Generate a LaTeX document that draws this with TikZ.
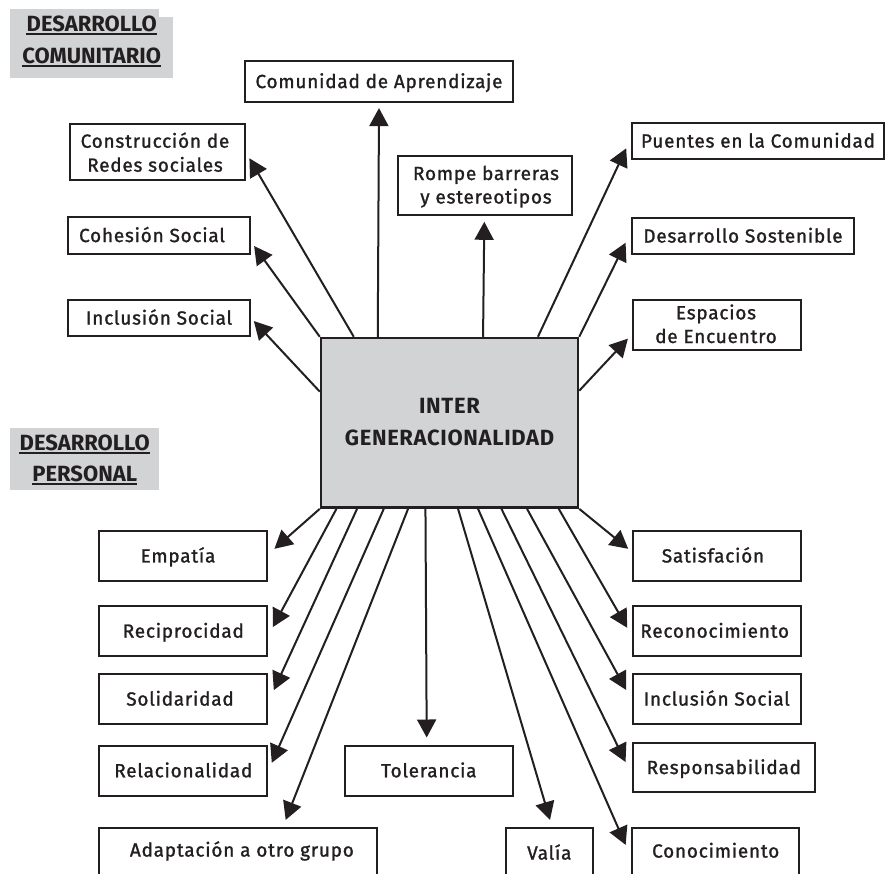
\documentclass[tikz,border=0pt]{standalone}
\usepackage{fontspec}
\setmainfont{Fira Sans}
\newfontfamily\boxfont[LetterSpace=4, FakeBold=1.3]{Fira Sans}
\newfontfamily\headfont{Fira Sans}
\newfontfamily\centfont[LetterSpace=3]{Fira Sans}
\usetikzlibrary{arrows.meta}
\definecolor{ink}{HTML}{231F20}
\definecolor{boxgray}{HTML}{D1D3D4}
\tikzset{
  bx/.style={draw=ink, line width=2.2pt, fill=white, inner sep=0pt, text=ink,
    font=\boxfont\fontsize{19}{24}\selectfont, text height=13.1pt, text depth=0pt},
  lbl/.style={inner sep=0pt, text=ink, anchor=base, font=\boxfont\fontsize{19}{24}\selectfont},
  ttl/.style={inner sep=0pt, text=ink, anchor=base, font=\headfont\bfseries\fontsize{22}{26}\selectfont},
  ctxt/.style={inner sep=0pt, text=ink, anchor=base, font=\centfont\bfseries\fontsize{22}{26}\selectfont},
  uline/.style={draw=ink, line width=1.7pt},
  arr/.style={draw=ink, line width=2pt, -{Triangle[length=18pt,width=19pt]}},
  cbox/.style={draw=ink, line width=2.5pt, fill=boxgray, inner sep=0pt}
}
\begin{document}
\begin{tikzpicture}[x=1pt,y=-1pt]
\useasboundingbox (0,0) rectangle (885,873);
% headings
\fill[boxgray] (10,9) rectangle (159,78);
\fill[boxgray] (10,17) rectangle (173,78);
\fill[boxgray] (10,428) rectangle (159,490);
\node[ttl] (dc1) at (91.7,31.7) {DESARROLLO};
\node[ttl] (dc2) at (91.7,63.3) {COMUNITARIO};
\node[ttl] (dp1) at (84.7,450.2) {DESARROLLO};
\node[ttl] (dp2) at (84.7,481.7) {PERSONAL};
\foreach \n in {dc1,dc2,dp1,dp2}
  \draw[uline] ([yshift=-2.6pt]\n.base west) -- ([yshift=-2.6pt]\n.base east);
% central box
\node[cbox, minimum width=257pt, minimum height=169.6pt] (c) at (449.5,422.8) {};
\node[ctxt] (c1) at ([yshift=9.5pt]c.center) {INTER};
\node[ctxt] (c2) at ([yshift=-22.2pt]c.center) {GENERACIONALIDAD};
% top boxes
\node[bx, minimum width=268pt, minimum height=41pt] (comu) at (379,81.5) {Comunidad de Aprendizaje};
\node[bx, minimum width=175pt, minimum height=56pt] (redes) at (157.5,152) {};
\node[lbl] (redes1) at (155,147.7) {Construcción de};
\node[lbl] (redes2) at (155,171.7) {Redes sociales};
\node[bx, minimum width=182pt, minimum height=37pt] (cohe) at (159,235.5) {Cohesión Social\hspace*{14pt}};
\node[bx, minimum width=182pt, minimum height=36pt] (inclL) at (159,318) {Inclusión Social};
\node[bx, minimum width=174pt, minimum height=59pt] (rompe) at (485,185.5) {};
\node[lbl] (rompe1) at (486,180) {Rompe barreras};
\node[lbl] (rompe2) at (486,203.5) {y estereotipos};
\node[bx, minimum width=252pt, minimum height=36pt] (puentes) at (758,141) {Puentes en la Comunidad};
\node[bx, minimum width=222pt, minimum height=36pt] (sost) at (743,236) {Desarrollo Sostenible};
\node[bx, minimum width=168pt, minimum height=50pt] (espacios) at (717,325) {};
\node[lbl] (esp1) at (716,319.3) {Espacios};
\node[lbl] (esp2) at (716,343) {de Encuentro};
% bottom left boxes
\node[bx, minimum width=168pt, minimum height=50.2pt] (empatia) at (183.3,555.9) {Empatía\hspace*{10.6pt}};
\node[bx, minimum width=168pt, minimum height=50.2pt] (recip) at (183.3,631.1) {Reciprocidad};
\node[bx, minimum width=168pt, minimum height=50.2pt] (solid) at (183.3,699) {Solidaridad\hspace*{6.6pt}};
\node[bx, minimum width=168pt, minimum height=50.2pt] (relac) at (183.3,770.7) {Relacionalidad};
\node[bx, minimum width=277.7pt, minimum height=50pt] (adapt) at (237.9,853) {\hspace*{8pt}\raisebox{3pt}{Adaptación a otro grupo}};
\node[bx, minimum width=167.7pt, minimum height=50.2pt] (toler) at (428.8,770.7) {Tolerancia};
% bottom right boxes
\node[bx, minimum width=168pt, minimum height=50.2pt] (satis) at (716.7,555.9) {Satisfación\hspace*{7.4pt}};
\node[bx, minimum width=168pt, minimum height=50.2pt] (recon) at (716.7,631.1) {Reconocimiento\hspace*{4pt}};
\node[bx, minimum width=168pt, minimum height=50.2pt] (inclR) at (716.7,699) {Inclusión Social};
\node[bx, minimum width=182.3pt, minimum height=49.5pt] (respo) at (723.8,767.5) {Responsabilidad};
\node[bx, minimum width=86.7pt, minimum height=50pt] (valia) at (549.3,853) {Valía};
\node[bx, minimum width=167.3pt, minimum height=50pt] (conoc) at (715.7,853) {\raisebox{2pt}{Conocimiento}};
% arrows top
\draw[arr] (c.north west) -- ([xshift=3pt,yshift=-10.5pt]cohe.east);
\draw[arr] ([xshift=34pt]c.north west) -- ([xshift=3.3pt,yshift=-6.3pt]redes.east);
\draw[arr] ([xshift=58pt]c.north west) -- ([yshift=-5pt]comu.south);
\draw[arr] ([xshift=163.3pt]c.north west) -- ([xshift=-0.7pt,yshift=-5.7pt]rompe.south);
\draw[arr] ([xshift=-41.3pt]c.north east) -- ([xshift=-4.7pt,yshift=-7.3pt]puentes.west);
\draw[arr] (c.north east) -- ([xshift=-5.3pt,yshift=-6.7pt]sost.west);
\draw[arr] ([yshift=31.2pt]c.west) -- ([xshift=2.7pt,yshift=-3pt]inclL.east);
\draw[arr] ([yshift=32.1pt]c.east) -- ([xshift=-4pt,yshift=12.5pt]espacios.south west);
% arrows bottom
\draw[arr] (c.south west) -- ([xshift=6pt,yshift=7.1pt]empatia.east);
\draw[arr] ([xshift=16.7pt]c.south west) -- ([xshift=4.4pt,yshift=4pt]recip.east);
\draw[arr] ([xshift=37.3pt]c.south west) -- ([xshift=5.4pt,yshift=8.9pt]solid.east);
\draw[arr] ([xshift=64pt]c.south west) -- ([xshift=3.4pt,yshift=7.9pt]relac.east);
\draw[arr] ([xshift=88.3pt]c.south west) -- ([xshift=187.7pt,yshift=7pt]adapt.north west);
\draw[arr] ([xshift=105.7pt]c.south west) -- ([xshift=-2.1pt,yshift=7pt]toler.north);
\draw[arr] ([xshift=138.3pt]c.south west) -- ([xshift=0.7pt,yshift=7pt]valia.north);
\draw[arr] ([xshift=158.3pt]c.south west) -- ([xshift=-5.3pt,yshift=-18pt]conoc.north west);
\draw[arr] ([xshift=181.7pt]c.south west) -- ([xshift=-6pt,yshift=5.5pt]respo.west);
\draw[arr] ([xshift=207.3pt]c.south west) -- ([xshift=-5.4pt,yshift=9pt]inclR.west);
\draw[arr] ([xshift=239pt]c.south west) -- ([xshift=-4.4pt,yshift=3.3pt]recon.west);
\draw[arr] (c.south east) -- ([xshift=-3.4pt,yshift=7.1pt]satis.west);
\end{tikzpicture}
\end{document}
